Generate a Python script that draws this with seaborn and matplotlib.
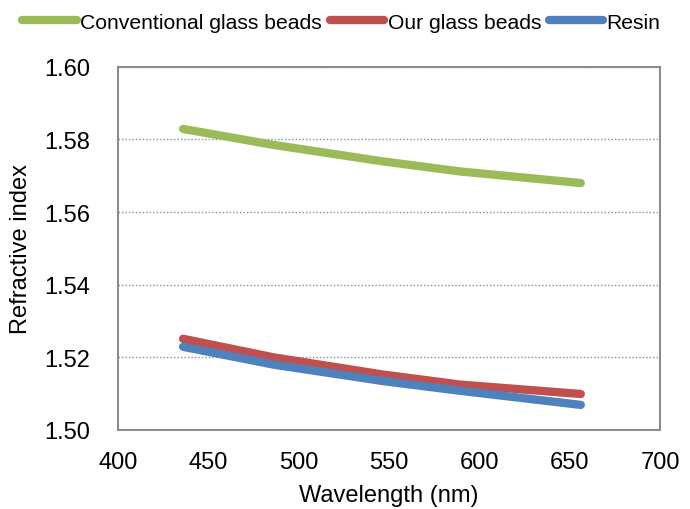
"""Refractive index vs wavelength for glass beads and resin."""

import matplotlib

matplotlib.use("Agg")
import matplotlib.pyplot as plt
import pandas as pd
import seaborn as sns

WAVELENGTH = [436, 486, 546, 589, 656]
CONVENTIONAL = [1.5829, 1.5785, 1.5740, 1.5712, 1.5680]
OURS = [1.5251, 1.5200, 1.5153, 1.5125, 1.5099]
RESIN = [1.5229, 1.5180, 1.5135, 1.5108, 1.5069]

SERIES = ["Conventional glass beads", "Our glass beads", "Resin"]
COLORS = ["#9BBB59", "#C0504D", "#4F81BD"]

X_TICKS = [400, 450, 500, 550, 600, 650, 700]
Y_TICKS = [1.50, 1.52, 1.54, 1.56, 1.58, 1.60]


def main() -> None:
    sns.set_style("white")
    plt.rcParams["font.family"] = ["Liberation Sans", "DejaVu Sans"]
    plt.rcParams["text.color"] = "black"
    plt.rcParams["axes.labelcolor"] = "black"

    data = pd.DataFrame({
        "wavelength": WAVELENGTH * 3,
        "index": CONVENTIONAL + OURS + RESIN,
        "series": [s for s in SERIES for _ in WAVELENGTH],
    })

    fig = plt.figure(figsize=(6.9, 5.1), dpi=100)
    ax = fig.add_axes([0.171, 0.155, 0.786, 0.712])

    sns.lineplot(
        data=data,
        x="wavelength",
        y="index",
        hue="series",
        hue_order=SERIES,
        palette=COLORS,
        linewidth=6,
        solid_capstyle="round",
        solid_joinstyle="round",
        ax=ax,
        zorder=3,
    )

    ax.set_xlim(400, 700)
    ax.set_ylim(1.50, 1.60)
    ax.set_xticks(X_TICKS)
    ax.set_yticks(Y_TICKS)
    ax.set_yticklabels([f"{t:.2f}" for t in Y_TICKS])
    ax.tick_params(axis="both", labelsize=17, length=0, colors="black")
    ax.tick_params(axis="y", pad=20)
    ax.tick_params(axis="x", pad=15)
    ax.yaxis.grid(True, linestyle=(0, (1, 1.5)), color="#8c8c8c", linewidth=1.0)
    ax.xaxis.grid(False)
    for spine in ax.spines.values():
        spine.set_color("#8c8c8c")
        spine.set_linewidth(1.5)

    ax.set_xlabel("Wavelength (nm)", fontsize=17, labelpad=8, color="black")
    ax.set_ylabel("Refractive index", fontsize=17, labelpad=9, color="black")

    handles, labels = ax.get_legend_handles_labels()
    legend = ax.legend(
        handles,
        labels,
        loc="center",
        bbox_to_anchor=(0.412, 1.123),
        ncol=3,
        frameon=False,
        fontsize=15.2,
        handlelength=2.6,
        handletextpad=0.15,
        columnspacing=0.35,
        borderaxespad=0,
        labelcolor="black",
    )
    for line in legend.get_lines():
        line.set_linewidth(6)
        line.set_solid_capstyle("round")

    fig.savefig("out.png", dpi=100)
    plt.close(fig)


if __name__ == "__main__":
    main()
